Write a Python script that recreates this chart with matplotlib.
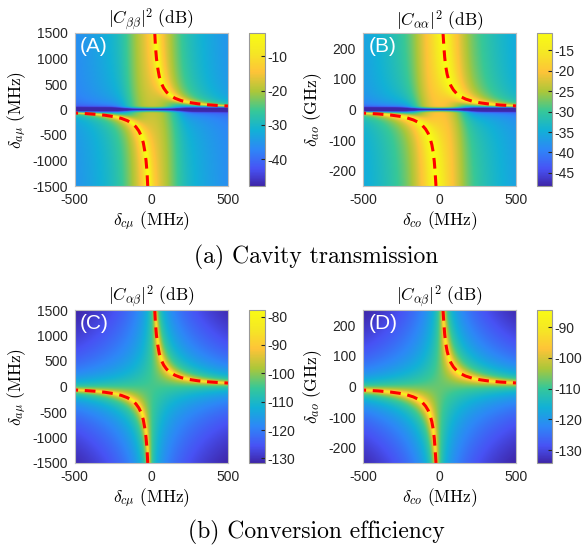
import numpy as np
import matplotlib
matplotlib.use('Agg')
import matplotlib.pyplot as plt
from matplotlib.colors import LinearSegmentedColormap

plt.rcParams['mathtext.fontset'] = 'cm'
plt.rcParams['font.family'] = ['Liberation Sans', 'DejaVu Sans']
plt.rcParams['axes.unicode_minus'] = False

#Detuning grids (MHz for the cavity axis, MHz / GHz for the vertical axis)
det_c = np.linspace(-500, 500, 301)
det_mu = np.linspace(-1500, 1500, 301)
det_o = np.linspace(-250, 250, 301)

#Red dashed resonance curve, upper branch (lower branch is the mirror)
ridge_x_mu = [23, 27, 34, 43, 52, 65, 81, 100, 124, 155, 194, 243, 304, 370, 436, 500]
ridge_y_mu = [1500, 1250, 1000, 800, 650, 520, 420, 340, 275, 220, 175, 140, 112, 92, 78, 68]
ridge_x_o = [23, 28, 34, 41, 50, 61, 74, 91, 112, 138, 171, 215, 264, 322, 400, 500]
ridge_y_o = [250, 210, 170, 140, 115, 95, 78, 64, 52, 42, 34, 27, 22, 18, 14.5, 11.6]

#Colour limits (dB)
clim_A = (-47.8, -3.2)
clim_B = (-48.2, -10.8)
clim_C = (-131.6, -77.7)
clim_D = (-134.2, -84.4)

#Linewidths estimated from the maps: (cavity, other mode)
gam_A = (12, 1.0)
gam_B = (30, 0.2)
gam_C = (2.45, 7.35)
gam_D = (3.93, 1.96)
#transmission maps: broad band near zero cavity detuning (strength, width) and dark notch width
band_A = (0.03, 100, 55)
band_B = (0.12, 100, 8.5)

cbar_ticks_A = [-40, -30, -20, -10]
cbar_ticks_B = [-45, -40, -35, -30, -25, -20, -15]
cbar_ticks_C = [-130, -120, -110, -100, -90, -80]
cbar_ticks_D = [-130, -120, -110, -100, -90]

parula = LinearSegmentedColormap.from_list('parula', [
    (0.0, (0.2422, 0.1504, 0.6603)),
    (0.111, (0.2810, 0.3228, 0.9579)),
    (0.238, (0.1786, 0.5289, 0.9682)),
    (0.365, (0.0689, 0.6948, 0.8394)),
    (0.492, (0.2161, 0.7843, 0.5923)),
    (0.619, (0.6720, 0.7793, 0.2227)),
    (0.746, (0.9970, 0.7659, 0.2199)),
    (0.873, (0.9598, 0.9059, 0.1424)),
    (1.0, (0.9769, 0.9839, 0.0805))])


def response(x, y, k, gam, kind, band=None):
    X, Y = np.meshgrid(x, y)
    gc, ga = gam
    D = (X - 1j * gc) * (Y - 1j * ga) - k
    if kind == 'trans':
        b, w, eps = band
        p = np.abs((Y - 1j * ga) / D) ** 2 + b / gc ** 2 * np.exp(-(X / w) ** 2)
        p = p * (1 - np.exp(-(Y / eps) ** 4))
    else:
        p = 1 / np.abs(D) ** 2
    return 10 * np.log10(p + 1e-30)


fig = plt.figure(figsize=(5.84, 5.46), dpi=100)
W, H = 584, 546


def box(l, t, r, b):
    return [l / W, 1 - b / H, (r - l) / W, (b - t) / H]


panels = [
    ('A', det_mu, ridge_x_mu, ridge_y_mu, clim_A, gam_A, 'trans', band_A, cbar_ticks_A,
     r'$|C_{\beta\beta}|^2\ (\mathrm{dB})$', r'$\delta_{c\mu}\ (\mathrm{MHz})$', r'$\delta_{a\mu}\ (\mathrm{MHz})$',
     (74.5, 33, 228, 186), (249, 33, 265, 186), [-1500, -1000, -500, 0, 500, 1000, 1500]),
    ('B', det_o, ridge_x_o, ridge_y_o, clim_B, gam_B, 'trans', band_B, cbar_ticks_B,
     r'$|C_{\alpha\alpha}|^2\ (\mathrm{dB})$', r'$\delta_{co}\ (\mathrm{MHz})$', r'$\delta_{ao}\ (\mathrm{GHz})$',
     (363, 33, 516, 186), (537, 33, 552, 186), [-200, -100, 0, 100, 200]),
    ('C', det_mu, ridge_x_mu, ridge_y_mu, clim_C, gam_C, 'conv', None, cbar_ticks_C,
     r'$|C_{\alpha\beta}|^2\ (\mathrm{dB})$', r'$\delta_{c\mu}\ (\mathrm{MHz})$', r'$\delta_{a\mu}\ (\mathrm{MHz})$',
     (74.5, 310, 228, 463), (249, 310, 265, 463), [-1500, -1000, -500, 0, 500, 1000, 1500]),
    ('D', det_o, ridge_x_o, ridge_y_o, clim_D, gam_D, 'conv', None, cbar_ticks_D,
     r'$|C_{\alpha\beta}|^2\ (\mathrm{dB})$', r'$\delta_{co}\ (\mathrm{MHz})$', r'$\delta_{ao}\ (\mathrm{GHz})$',
     (363, 310, 516, 463), (537, 310, 552, 463), [-200, -100, 0, 100, 200]),
]

for (tag, yv, rx, ry, clim, gam, kind, band, cticks, title, xlab, ylab, abox, cbox, yticks) in panels:
    rx = np.array(rx)
    ry = np.array(ry)
    k = np.median(rx * ry)
    Z = response(det_c, yv, k, gam, kind, band)
    #shift to the dB scale of the colorbar, clip to its range
    if kind == 'trans':
        Z = Z + clim[1] - Z.max()
    else:
        Z = Z + clim[0] - Z.min()
    Z = np.clip(Z, clim[0], clim[1])

    ax = fig.add_axes(box(*abox))
    im = ax.imshow(Z, extent=[det_c[0], det_c[-1], yv[0], yv[-1]], origin='lower', aspect='auto',
                   cmap=parula, vmin=clim[0], vmax=clim[1], interpolation='bilinear')
    ax.plot(rx, ry, color='red', lw=2.2, dashes=(3.5, 2.2))
    ax.plot(-rx, -ry, color='red', lw=2.2, dashes=(3.5, 2.2))
    ax.set_xlim(det_c[0], det_c[-1])
    ax.set_ylim(yv[0], yv[-1])
    ax.set_xticks([-500, 0, 500])
    ax.set_yticks(yticks)
    ax.tick_params(length=0, labelsize=10, colors='0.15', pad=5)
    for s in ax.spines.values():
        s.set_color('0.75')
    ax.set_title(title, fontsize=12.5, pad=3)
    ax.set_xlabel(xlab, fontsize=12.5, labelpad=2)
    ax.set_ylabel(ylab, fontsize=12.5, labelpad=3)
    ax.text(0.035, 0.975, '(' + tag + ')', transform=ax.transAxes, color='white',
            fontsize=15, va='top', ha='left')

    cax = fig.add_axes(box(*cbox))
    cb = fig.colorbar(im, cax=cax, ticks=cticks)
    cb.outline.set_edgecolor('0.6')
    cax.tick_params(length=3, direction='in', labelsize=10, colors='0.15', pad=2)

fig.text(0.541, 1 - 257 / H, '(a) Cavity transmission', family='cmr10', fontsize=17,
         ha='center', va='center')
fig.text(0.541, 1 - 532 / H, '(b) Conversion efficiency', family='cmr10', fontsize=17,
         ha='center', va='center')

fig.savefig('out.png', dpi=100)
